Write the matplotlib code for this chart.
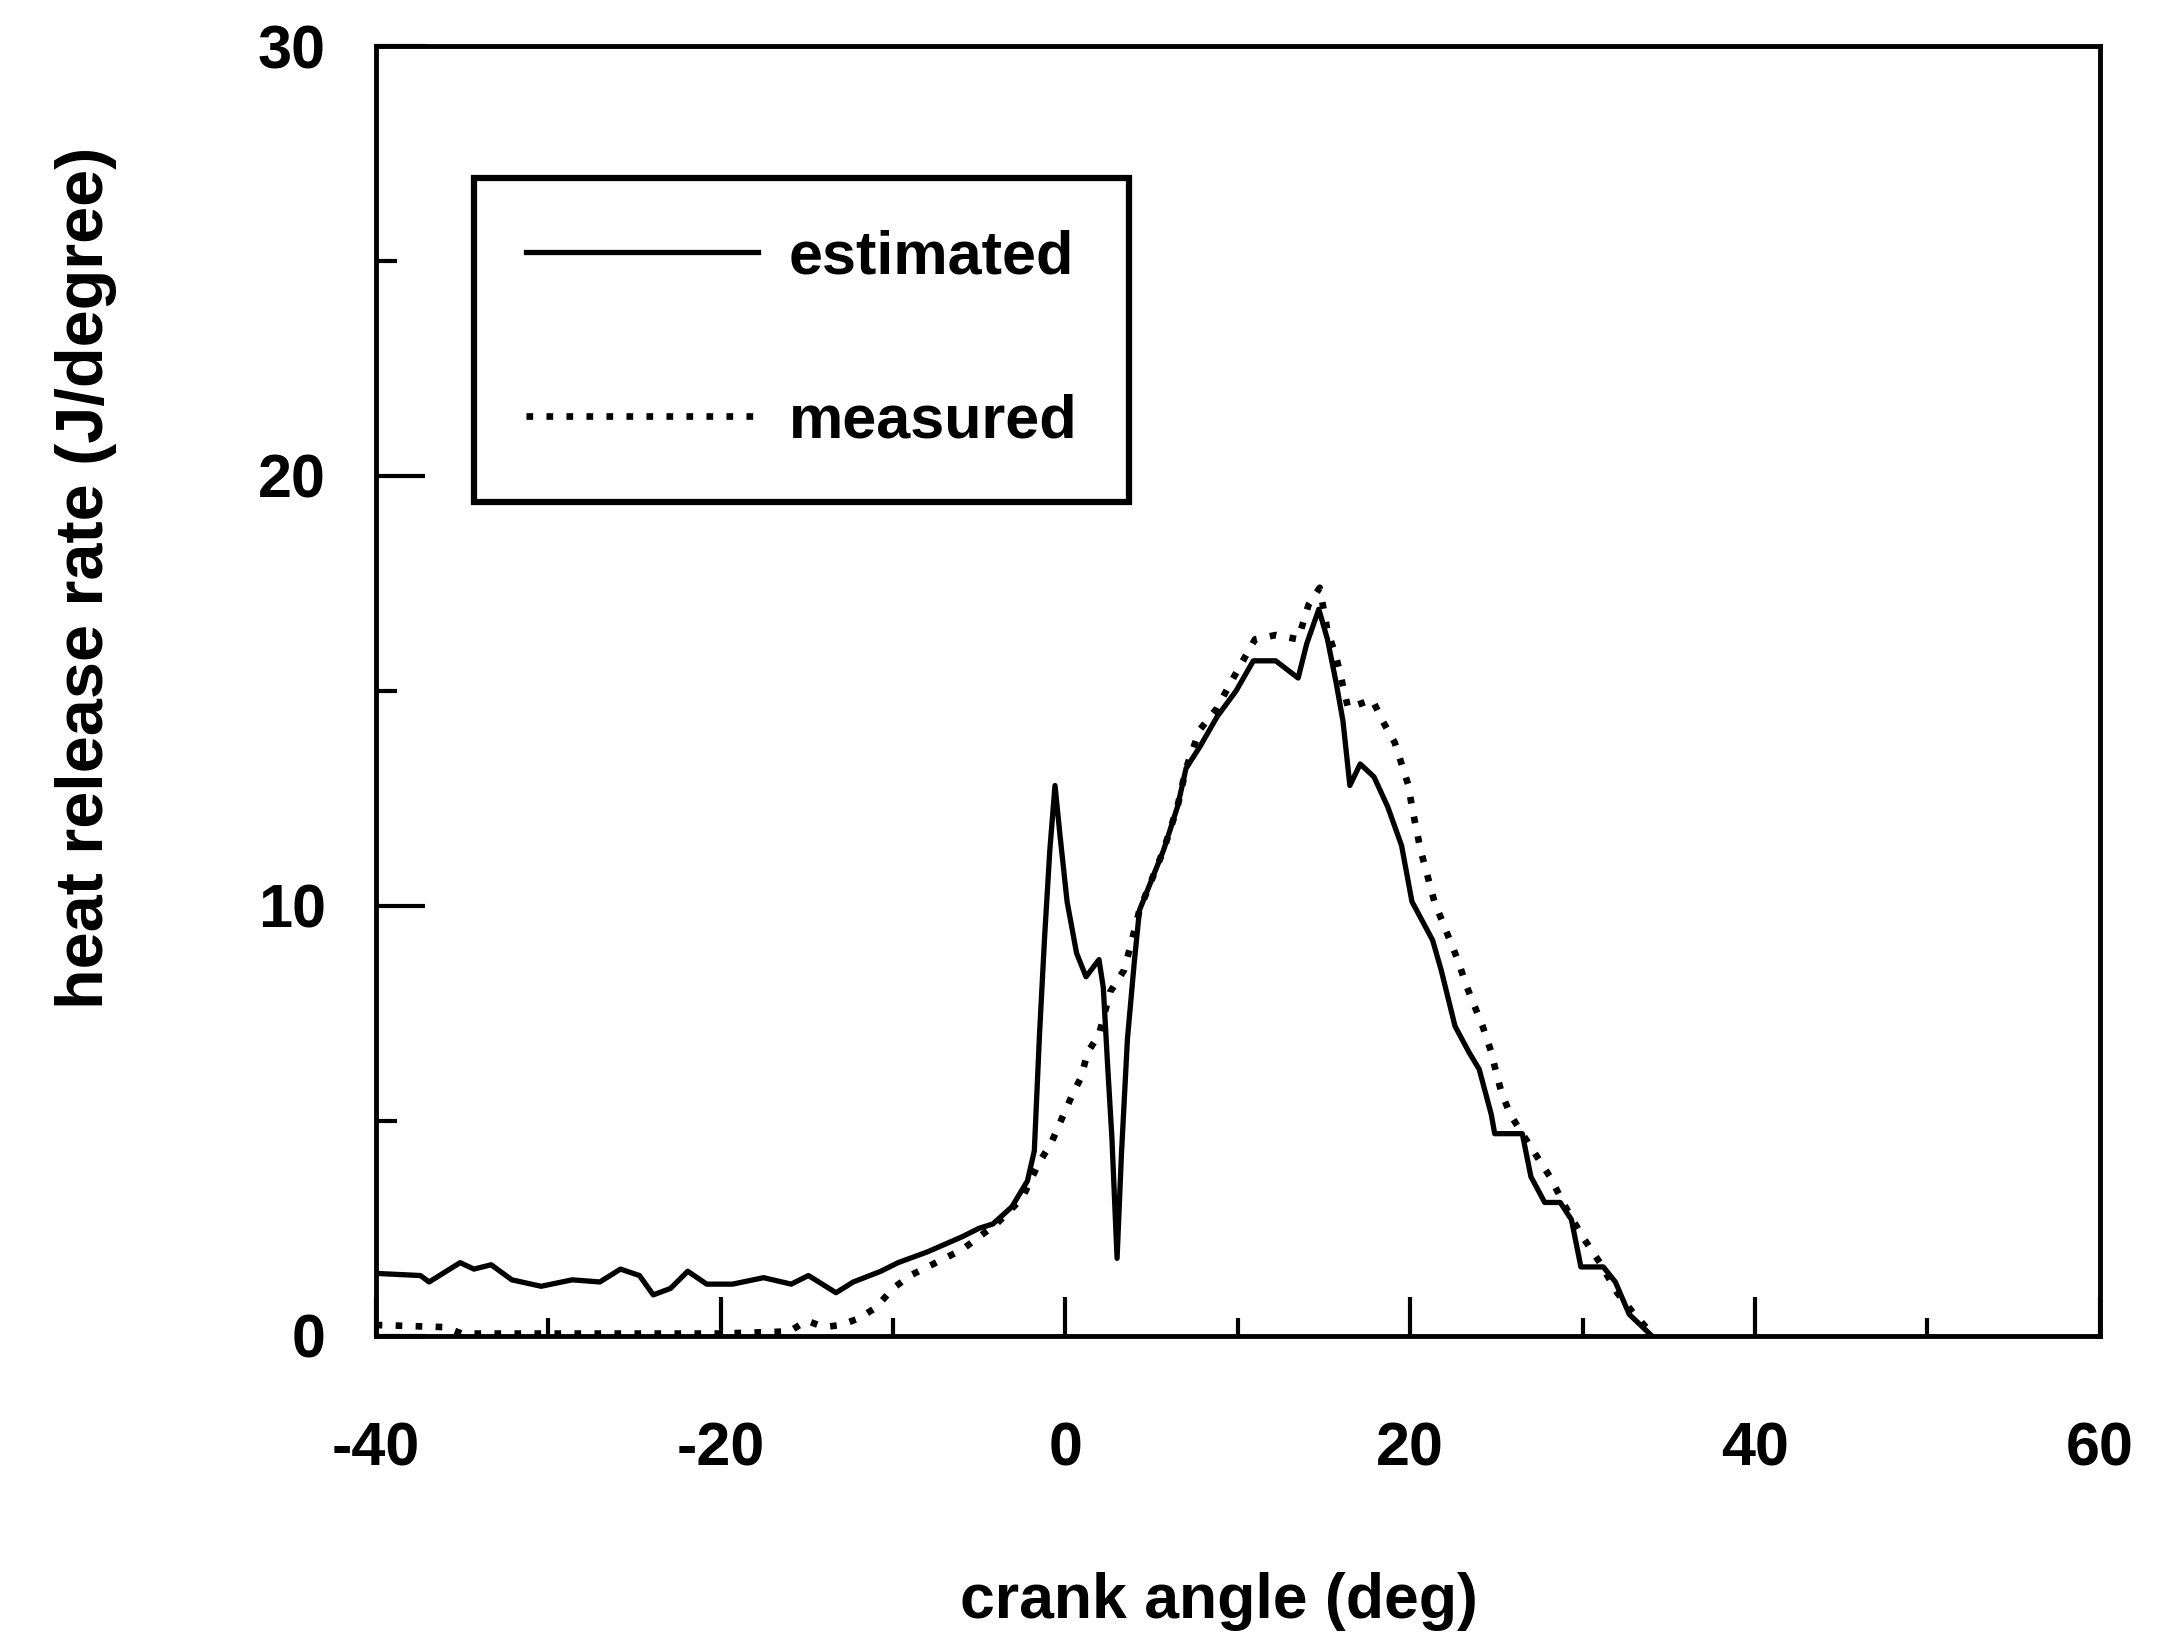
import matplotlib
matplotlib.use("Agg")
import matplotlib.pyplot as plt
from matplotlib.ticker import MultipleLocator

# estimated heat release rate (solid)
est_x = [-40.0, -37.4, -36.9, -35.1, -34.3, -33.3, -32.1, -30.4, -28.6, -27.0,
         -25.8, -24.7, -23.9, -22.9, -21.9, -20.8, -19.3, -17.5, -15.9,
         -14.9, -13.3, -12.3, -10.7, -9.7, -8.0, -6.0, -5.0, -4.2, -3.1,
         -2.2, -1.8, -1.5, -1.2, -0.9, -0.6, -0.3, 0.1, 0.65, 1.2,
         1.95, 2.2, 2.45, 2.7, 3.0, 3.25, 3.6, 4.0, 4.3, 4.8,
         5.7, 6.5, 7.0, 7.8, 8.8, 9.9, 10.9, 12.2, 13.5, 14.0,
         14.7, 15.2, 15.7, 16.1, 16.5, 17.1, 17.9, 18.7, 19.5, 20.1,
         21.3, 21.8, 22.6, 23.4, 24.0, 24.7, 24.9, 26.5, 27.0, 27.8,
         28.7, 29.35, 29.9, 31.2, 31.9, 32.7, 34.0]
est_y = [1.45, 1.4, 1.25, 1.7, 1.55, 1.65, 1.3, 1.15, 1.3, 1.25,
         1.55, 1.4, 0.95, 1.1, 1.5, 1.2, 1.2, 1.35, 1.2,
         1.4, 1.0, 1.25, 1.5, 1.7, 1.95, 2.3, 2.5, 2.6, 3.0,
         3.6, 4.3, 7.0, 9.3, 11.3, 12.8, 11.6, 10.1, 8.9, 8.35,
         8.75, 8.1, 6.3, 4.6, 1.8, 4.2, 6.9, 8.7, 9.9, 10.4,
         11.3, 12.3, 13.2, 13.7, 14.4, 15.0, 15.7, 15.7, 15.3, 16.1,
         16.9, 16.2, 15.2, 14.3, 12.8, 13.3, 13.0, 12.3, 11.4, 10.1,
         9.2, 8.5, 7.2, 6.6, 6.2, 5.15, 4.7, 4.7, 3.7, 3.1,
         3.1, 2.7, 1.6, 1.6, 1.25, 0.5, 0.0]

# measured heat release rate (dotted)
meas_x = [-40, -36, -35, -30, -25, -20, -16, -15, -14, -13,
          -12, -11, -10, -9, -8, -6, -4, -2.5, -1.56, -0.8,
          -0.26, 0.4, 0.9, 1.3, 1.95, 2.6, 3.4, 3.8, 4.3, 4.8,
          5.7, 6.5, 7.0, 7.8, 8.8, 9.6, 10.3, 11.0, 12.2, 13.5,
          14.1, 14.75, 15.2, 15.7, 16.4, 17.1, 17.8, 18.4, 19.1, 19.5,
          19.9, 20.1, 20.4, 20.6, 21.0, 21.4, 21.8, 22.3, 22.8, 23.2,
          23.8, 24.2, 24.7, 25.0, 25.3, 25.8, 26.5, 27.3, 28.1, 29.0,
          30.0, 31.0, 32.0, 33.0, 34.0]
meas_y = [0.25, 0.2, 0.05, 0.05, 0.05, 0.05, 0.1, 0.35, 0.2, 0.25,
          0.4, 0.65, 1.1, 1.4, 1.6, 2.0, 2.6, 3.2, 4.0, 4.5,
          5.0, 5.6, 6.0, 6.6, 7.0, 8.0, 8.5, 9.1, 9.9, 10.4,
          11.3, 12.3, 13.2, 14.1, 14.6, 15.2, 15.7, 16.2, 16.3, 16.2,
          17.0, 17.4, 16.4, 15.8, 14.6, 14.7, 14.8, 14.3, 13.8, 13.3,
          12.8, 12.3, 11.7, 11.3, 10.7, 10.1, 9.7, 9.2, 8.7, 8.2,
          7.6, 7.2, 6.6, 6.1, 5.65, 5.15, 4.7, 4.2, 3.7, 3.0,
          2.3, 1.7, 1.0, 0.5, 0.05]

x_ticks = [-40, -20, 0, 20, 40, 60]
y_ticks = [0, 10, 20, 30]

plt.rcParams['font.family'] = ['Liberation Sans', 'DejaVu Sans']
plt.rcParams['axes.unicode_minus'] = False

fig = plt.figure(figsize=(21.84, 16.47), dpi=100)
ax = fig.add_axes([0.172, 0.189, 0.7895, 0.783])

ax.plot(est_x, est_y, color="black", lw=3.8, label="estimated")
ax.plot(meas_x, meas_y, color="black", lw=4.8, linestyle=(0, (1, 2.0)),
        dash_capstyle="butt", label="measured")

ax.set_xlim(-40, 60)
ax.set_ylim(0, 30)
ax.set_xticks(x_ticks)
ax.set_yticks(y_ticks)
ax.xaxis.set_minor_locator(MultipleLocator(10))
ax.yaxis.set_minor_locator(MultipleLocator(5))

for s in ax.spines.values():
    s.set_linewidth(3.5)

ax.tick_params(axis="x", which="major", direction="in", length=28, width=3,
               pad=62, labelsize=44)
ax.tick_params(axis="x", which="minor", direction="in", length=13, width=3)
ax.tick_params(axis="y", which="major", direction="in", length=35, width=3,
               pad=36, labelsize=44)
ax.tick_params(axis="y", which="minor", direction="in", length=15, width=3)
for lab in ax.get_xticklabels() + ax.get_yticklabels():
    lab.set_fontweight("bold")

ax.set_xlabel("crank angle (deg)", fontsize=45, fontweight="bold", va="center")
ax.xaxis.set_label_coords(0.489, -0.206)
ax.set_ylabel("heat release rate (J/degree)", fontsize=48, fontweight="bold", va="center")
ax.yaxis.set_label_coords(-0.168, 0.588)

leg = ax.legend(loc="upper left", bbox_to_anchor=(0.057, 0.898), borderaxespad=0,
                fontsize=44, handlelength=3.8, handletextpad=0.5, labelspacing=1.75,
                borderpad=0.85, fancybox=False, framealpha=1)
leg.get_frame().set_edgecolor("black")
leg.get_frame().set_linewidth(4.5)
for t in leg.get_texts():
    t.set_fontweight("bold")

fig.savefig("out.png", dpi=100, facecolor="white")
